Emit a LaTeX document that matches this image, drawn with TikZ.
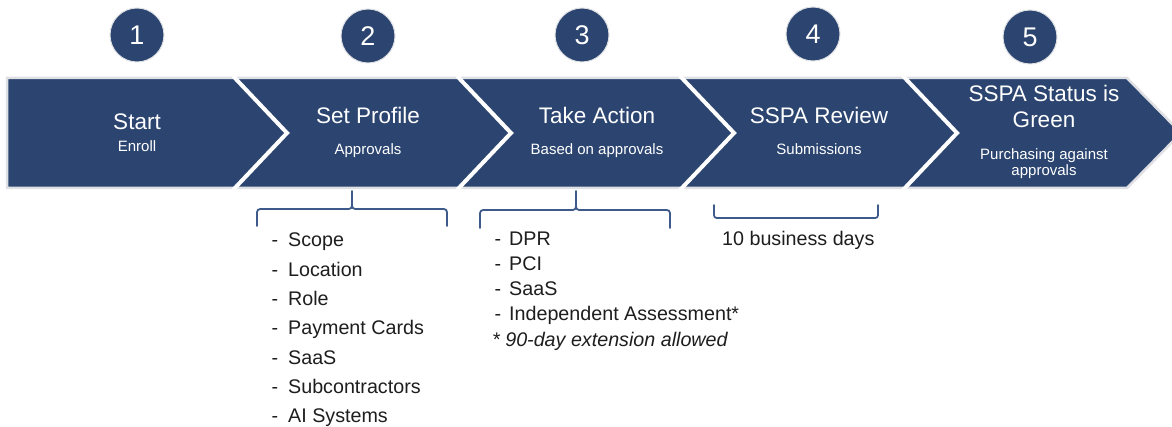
\documentclass[tikz,border=0pt]{standalone}
\usepackage{fontspec}
\setmainfont{Liberation Sans}
\definecolor{navy}{RGB}{44,69,112}
\definecolor{brk}{RGB}{62,90,138}
\definecolor{rim}{RGB}{222,224,228}
\definecolor{ink}{RGB}{30,30,30}
\begin{document}
\begin{tikzpicture}[x=1pt,y=-1pt,
  numdot/.style={circle,fill=navy,draw=rim,line width=1,minimum size=54,inner sep=0,text=white,font=\fontsize{27}{27}\selectfont},
  ttl/.style={anchor=base,inner sep=0,text=white,font=\fontsize{22.5}{22.5}\selectfont},
  sub/.style={anchor=base,inner sep=0,text=white,font=\fontsize{15}{15}\selectfont},
  item/.style={anchor=base west,inner sep=0,text=ink,font=\fontsize{19.7}{19.7}\selectfont},
  brace/.style={draw=brk,line width=1.8,line cap=round,line join=round},
  sep/.style={draw=white,line width=4}]
\clip (0,0) rectangle (1172,427);
\fill[white] (0,0) rectangle (1172,427);
% band
\fill[navy,draw=rim,line width=2.5] (7,78) -- (1127,78) -- (1181,133) -- (1127,188) -- (7,188) -- cycle;
\foreach \x in {233,457,680,903}
  \draw[sep] (\x,76) -- (\x+54,133) -- (\x,190);
% numbers
\node[numdot] (n1) at (137,35) {1};
\node[numdot] (n2) at (368,36) {2};
\node[numdot] (n3) at (582,35) {3};
\node[numdot] (n4) at (813,34) {4};
\node[numdot] (n5) at (1030,37) {5};
% titles
\node[ttl] (t1) at (137,130) {Start};
\node[sub] (s1) at (137,152) {Enroll};
\node[ttl] (t2) at (368,124) {Set Profile};
\node[sub] (s2) at (368,155) {Approvals};
\node[ttl] (t3) at (597,124) {Take Action};
\node[sub] (s3) at (597,155) {Based on approvals};
\node[ttl] (t4) at (819,124) {SSPA Review};
\node[sub] (s4) at (819,155) {Submissions};
\node[ttl] (t5a) at (1044,102) {SSPA Status is};
\node[ttl] (t5b) at (1044,128) {Green};
\node[sub] (s5a) at (1044,160) {Purchasing against};
\node[sub] (s5b) at (1044,176) {approvals};
% braces
\draw[brace] (257,226) -- (257,216) .. controls (257,209) .. (264,209) -- (345,209) .. controls (352,209) .. (352,202) -- (352,191);
\draw[brace] (352,202) .. controls (352,209) .. (359,209) -- (440,209) .. controls (447,209) .. (447,216) -- (447,226);
\draw[brace] (480,228) -- (480,217) .. controls (480,210) .. (487,210) -- (569,210) .. controls (576,210) .. (576,203) -- (576,191);
\draw[brace] (576,203) .. controls (576,210) .. (583,210) -- (663,210) .. controls (670,210) .. (670,217) -- (670,228);
\draw[brace] (714,205) -- (714,212) .. controls (714,218) .. (720,218) -- (872,218) .. controls (878,218) .. (878,212) -- (878,205);
% lists
\foreach \t [count=\i] in {Scope,Location,Role,Payment Cards,SaaS,Subcontractors,AI Systems}
  \node[item] (a\i) at (288,{247+29.3*(\i-1)}) {\llap{-\hspace{10pt}}\t};
\foreach \t [count=\i] in {DPR,PCI,SaaS,Independent Assessment*}
  \node[item] (b\i) at (509,{246+25*(\i-1)}) {\llap{-\hspace{8pt}}\t};
\node[item] (note) at (492,346) {\itshape * 90-day extension allowed};
\node[item] (days) at (722,246) {10 business days};
\end{tikzpicture}
\end{document}
